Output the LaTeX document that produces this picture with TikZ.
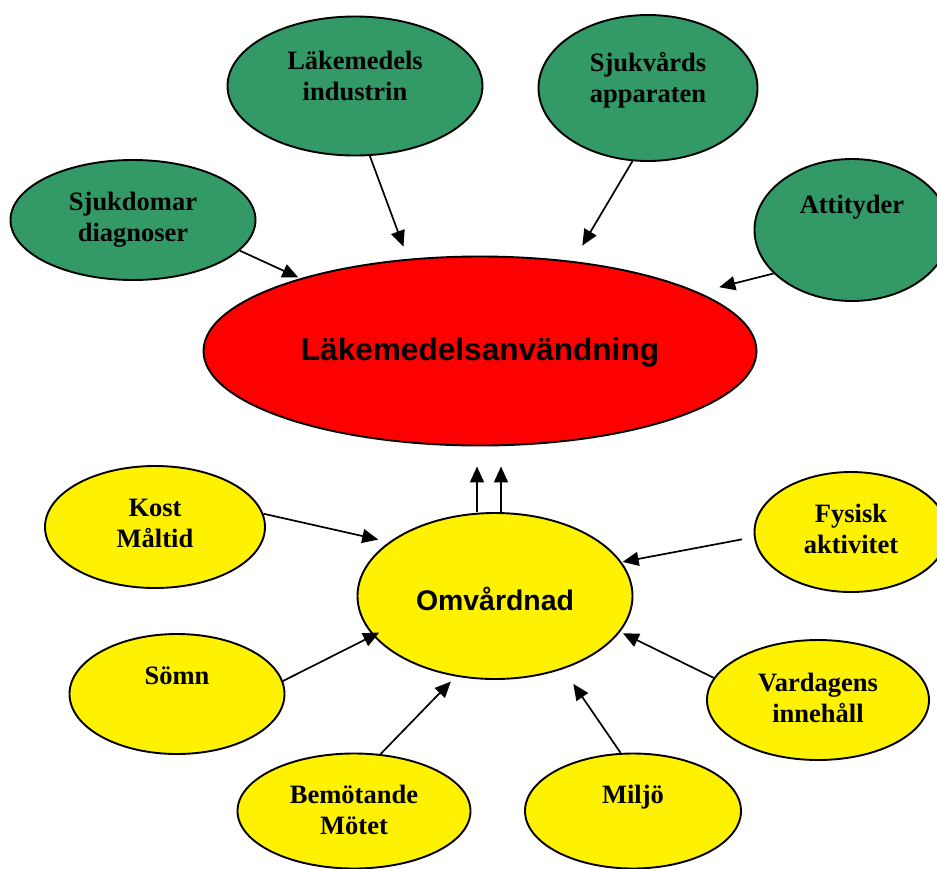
\documentclass[tikz,border=0pt]{standalone}
\usepackage{fontspec}
\setmainfont{Liberation Serif}
\newfontfamily\arialfont{Liberation Sans}
\usetikzlibrary{shapes.geometric,arrows.meta}
\definecolor{sjogron}{HTML}{339966}
% text i ellipsen, lyft med #1
\newcommand{\lbl}[2]{\raisebox{#1}[0pt][0pt]{\begin{tabular}{@{}c@{}}#2\end{tabular}}}

\begin{document}
\begin{tikzpicture}[x=1pt,y=-1pt,
		ell/.style={ellipse,draw=black,line width=1.9pt,inner sep=0pt},
		gron/.style={ell,fill=sjogron,font=\fontsize{26.5}{31}\selectfont\bfseries},
		gul/.style={ell,fill=yellow,font=\fontsize{26.5}{31}\selectfont\bfseries},
		pil/.style={-{Triangle[length=16pt,width=14pt]},line width=1.7pt}]
		\useasboundingbox (0,0) rectangle (937,868);

		% Mitten
		\node[ell,fill=red,minimum width=553pt,minimum height=189pt,font=\arialfont\fontsize{31.6}{38}\selectfont\bfseries] (lmv) at (480,351) {\lbl{-8.5pt}{Läkemedelsanvändning}};
		\node[ell,fill=yellow,minimum width=275pt,minimum height=166pt,font=\arialfont\fontsize{28.4}{34}\selectfont\bfseries] (omv) at (495,596) {\lbl{-13.7pt}{Omvårdnad}};

		% Gröna
		\node[gron,minimum width=245pt,minimum height=120pt] (sjd) at (133,220) {\lbl{-6pt}{Sjukdomar\\diagnoser}};
		\node[gron,minimum width=255pt,minimum height=139pt] (lmi) at (355,86) {\lbl{1pt}{Läkemedels\\industrin}};
		\node[gron,minimum width=219pt,minimum height=146pt] (sja) at (648,88) {\lbl{1pt}{Sjukvårds\\apparaten}};
		\node[gron,minimum width=195pt,minimum height=142pt] (att) at (852,230) {\lbl{16pt}{Attityder}};

		% Gula
		\node[gul,minimum width=220pt,minimum height=122pt] (kos) at (155,527) {\lbl{-5pt}{Kost\\Måltid}};
		\node[gul,minimum width=215pt,minimum height=120pt] (som) at (177,694) {\lbl{9pt}{Sömn}};
		\node[gul,minimum width=233pt,minimum height=115pt] (bem) at (354,811) {\lbl{-8pt}{Bemötande\\Mötet}};
		\node[gul,minimum width=216pt,minimum height=115pt] (mil) at (633,811) {\lbl{7pt}{Miljö}};
		\node[gul,minimum width=222pt,minimum height=120pt] (var) at (818,700) {\lbl{-7pt}{Vardagens\\innehåll}};
		\node[gul,minimum width=193pt,minimum height=120pt] (fys) at (851,532) {\lbl{-6pt}{Fysisk\\aktivitet}};

		% Pilar
		\draw[pil,shorten >=2pt] (sjd.-16) -- (lmv.158);
		\draw[pil,shorten >=13pt] (lmi.-78) -- (lmv.128);
		\draw[pil,shorten >=18pt] (sja.-102) -- (lmv.44);
		\draw[pil,shorten >=21pt] (att.209) -- (lmv.15);

		\draw[pil,shorten >=11pt] (kos.7) -- (omv.153);
		\draw[pil,shorten >=-7pt] (som.7) -- (omv.-162);
		\draw[pil,shorten >=7pt] (bem.65) -- (omv.-116);
		\draw[pil,shorten >=18pt] (mil.102) -- (omv.-47);
		\draw[pil,shorten >=3pt] (var.168) -- (omv.-16);
		\draw[pil,shorten <=12pt,shorten >=1pt] (fys.183) -- (omv.15);

		\coordinate (o1) at ([xshift=-18pt]omv.north);
		\coordinate (o2) at ([xshift=6pt]omv.north);
		\draw[pil,shorten >=20pt] (o1) -- (o1 |- lmv.south);
		\draw[pil,shorten >=20pt] (o2) -- (o2 |- lmv.south);
	\end{tikzpicture}
\end{document}
